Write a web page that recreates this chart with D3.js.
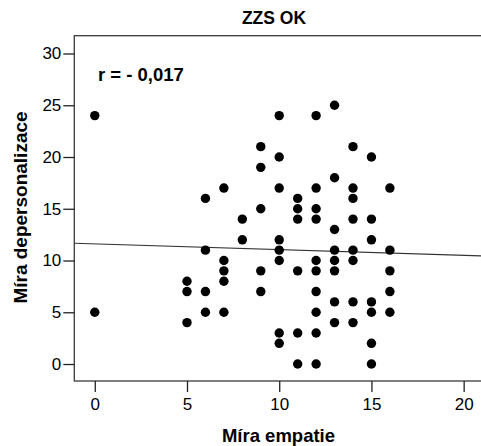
<!DOCTYPE html>
<html>
<head>
<meta charset="utf-8">
<script src="https://cdn.jsdelivr.net/npm/d3@7"></script>
<style>
html,body{margin:0;padding:0;background:#fff;}
svg{display:block;}
</style>
</head>
<body>
<div id="chart"></div>
<script>
// Data: Míra empatie (x) vs Míra depersonalizace (y), ZZS OK
const empatie = [
  0,0,
  5,5,5,
  6,6,6,6,
  7,7,7,7,7,
  8,8,
  9,9,9,9,9,
  10,10,10,10,10,10,10,10,
  11,11,11,11,11,11,
  12,12,12,12,12,12,12,12,12,12,
  13,13,13,13,13,13,13,13,
  14,14,14,14,14,14,14,14,
  15,15,15,15,15,15,15,
  16,16,16,16,16
];
const depersonalizace = [
  24,5,
  8,7,4,
  16,11,7,5,
  17,10,9,8,5,
  14,12,
  21,19,15,9,7,
  24,20,17,12,11,10,3,2,
  16,15,14,9,3,0,
  24,17,15,14,10,9,7,5,3,0,
  25,18,13,11,10,9,6,4,
  21,17,16,14,11,10,6,4,
  20,14,12,6,5,2,0,
  17,11,9,7,5
];
const xTicks = [0,5,10,15,20];
const yTicks = [0,5,10,15,20,25,30];
const fitIntercept = [11.6];
const fitSlope = [-0.055];
const chartTitle = "ZZS OK";
const xTitle = "Míra empatie";
const yTitle = "Míra depersonalizace";
const rLabel = "r = - 0,017";

const W = 481, H = 446;
const svg = d3.select("#chart").append("svg").attr("width", W).attr("height", H);
const font = "'Liberation Sans', Arial, sans-serif";

const pLeft = 74.3, pRight = 481, pTop = 35.7, pBottom = 381;
const x = d3.scaleLinear().domain([-1.11, 20.94]).range([pLeft, pRight]);
const y = d3.scaleLinear().domain([-1.64, 31.72]).range([pBottom, pTop]);

// plot frame
svg.append("rect").attr("x", pLeft).attr("y", pTop)
  .attr("width", pRight - pLeft + 5).attr("height", pBottom - pTop)
  .attr("fill", "none").attr("stroke", "#3a3a3a").attr("stroke-width", 1.3);

// axes
const xAxis = svg.append("g").attr("transform", `translate(0,${pBottom})`)
  .call(d3.axisBottom(x).tickValues(xTicks).tickSize(11).tickPadding(6).tickFormat(d3.format("d")));
const yAxis = svg.append("g").attr("transform", `translate(${pLeft},0)`)
  .call(d3.axisLeft(y).tickValues(yTicks).tickSize(11).tickPadding(2).tickFormat(d3.format("d")));
[xAxis, yAxis].forEach(g => {
  g.select(".domain").remove();
  g.selectAll(".tick line").attr("stroke", "#222").attr("stroke-width", 1.3);
  g.selectAll(".tick text").attr("fill", "#000").style("font-family", font).style("font-size", "17px");
});

// fit line
const xd = x.domain();
svg.append("line")
  .attr("x1", x(xd[0])).attr("y1", y(fitIntercept[0] + fitSlope[0] * xd[0]))
  .attr("x2", x(xd[1])).attr("y2", y(fitIntercept[0] + fitSlope[0] * xd[1]))
  .attr("stroke", "#333").attr("stroke-width", 1.1);

// points
const pts = empatie.map((v, i) => ({x: v, y: depersonalizace[i]}));
svg.append("g").selectAll("circle").data(pts).join("circle")
  .attr("cx", d => x(d.x)).attr("cy", d => y(d.y)).attr("r", 4.7).attr("fill", "#000");

// texts
svg.append("text").attr("x", 274).attr("y", 24).attr("text-anchor", "middle")
  .style("font-family", font).style("font-weight", "bold").style("font-size", "17.5px").text(chartTitle);
svg.append("text").attr("x", 98).attr("y", 80.5)
  .style("font-family", font).style("font-weight", "bold").style("font-size", "18.5px").text(rLabel);
svg.append("text").attr("x", 278.5).attr("y", 442).attr("text-anchor", "middle")
  .style("font-family", font).style("font-weight", "bold").style("font-size", "18.5px").text(xTitle);
svg.append("text").attr("transform", "translate(27,207.5) rotate(-90)").attr("text-anchor", "middle")
  .style("font-family", font).style("font-weight", "bold").style("font-size", "19px").text(yTitle);
</script>
</body>
</html>
